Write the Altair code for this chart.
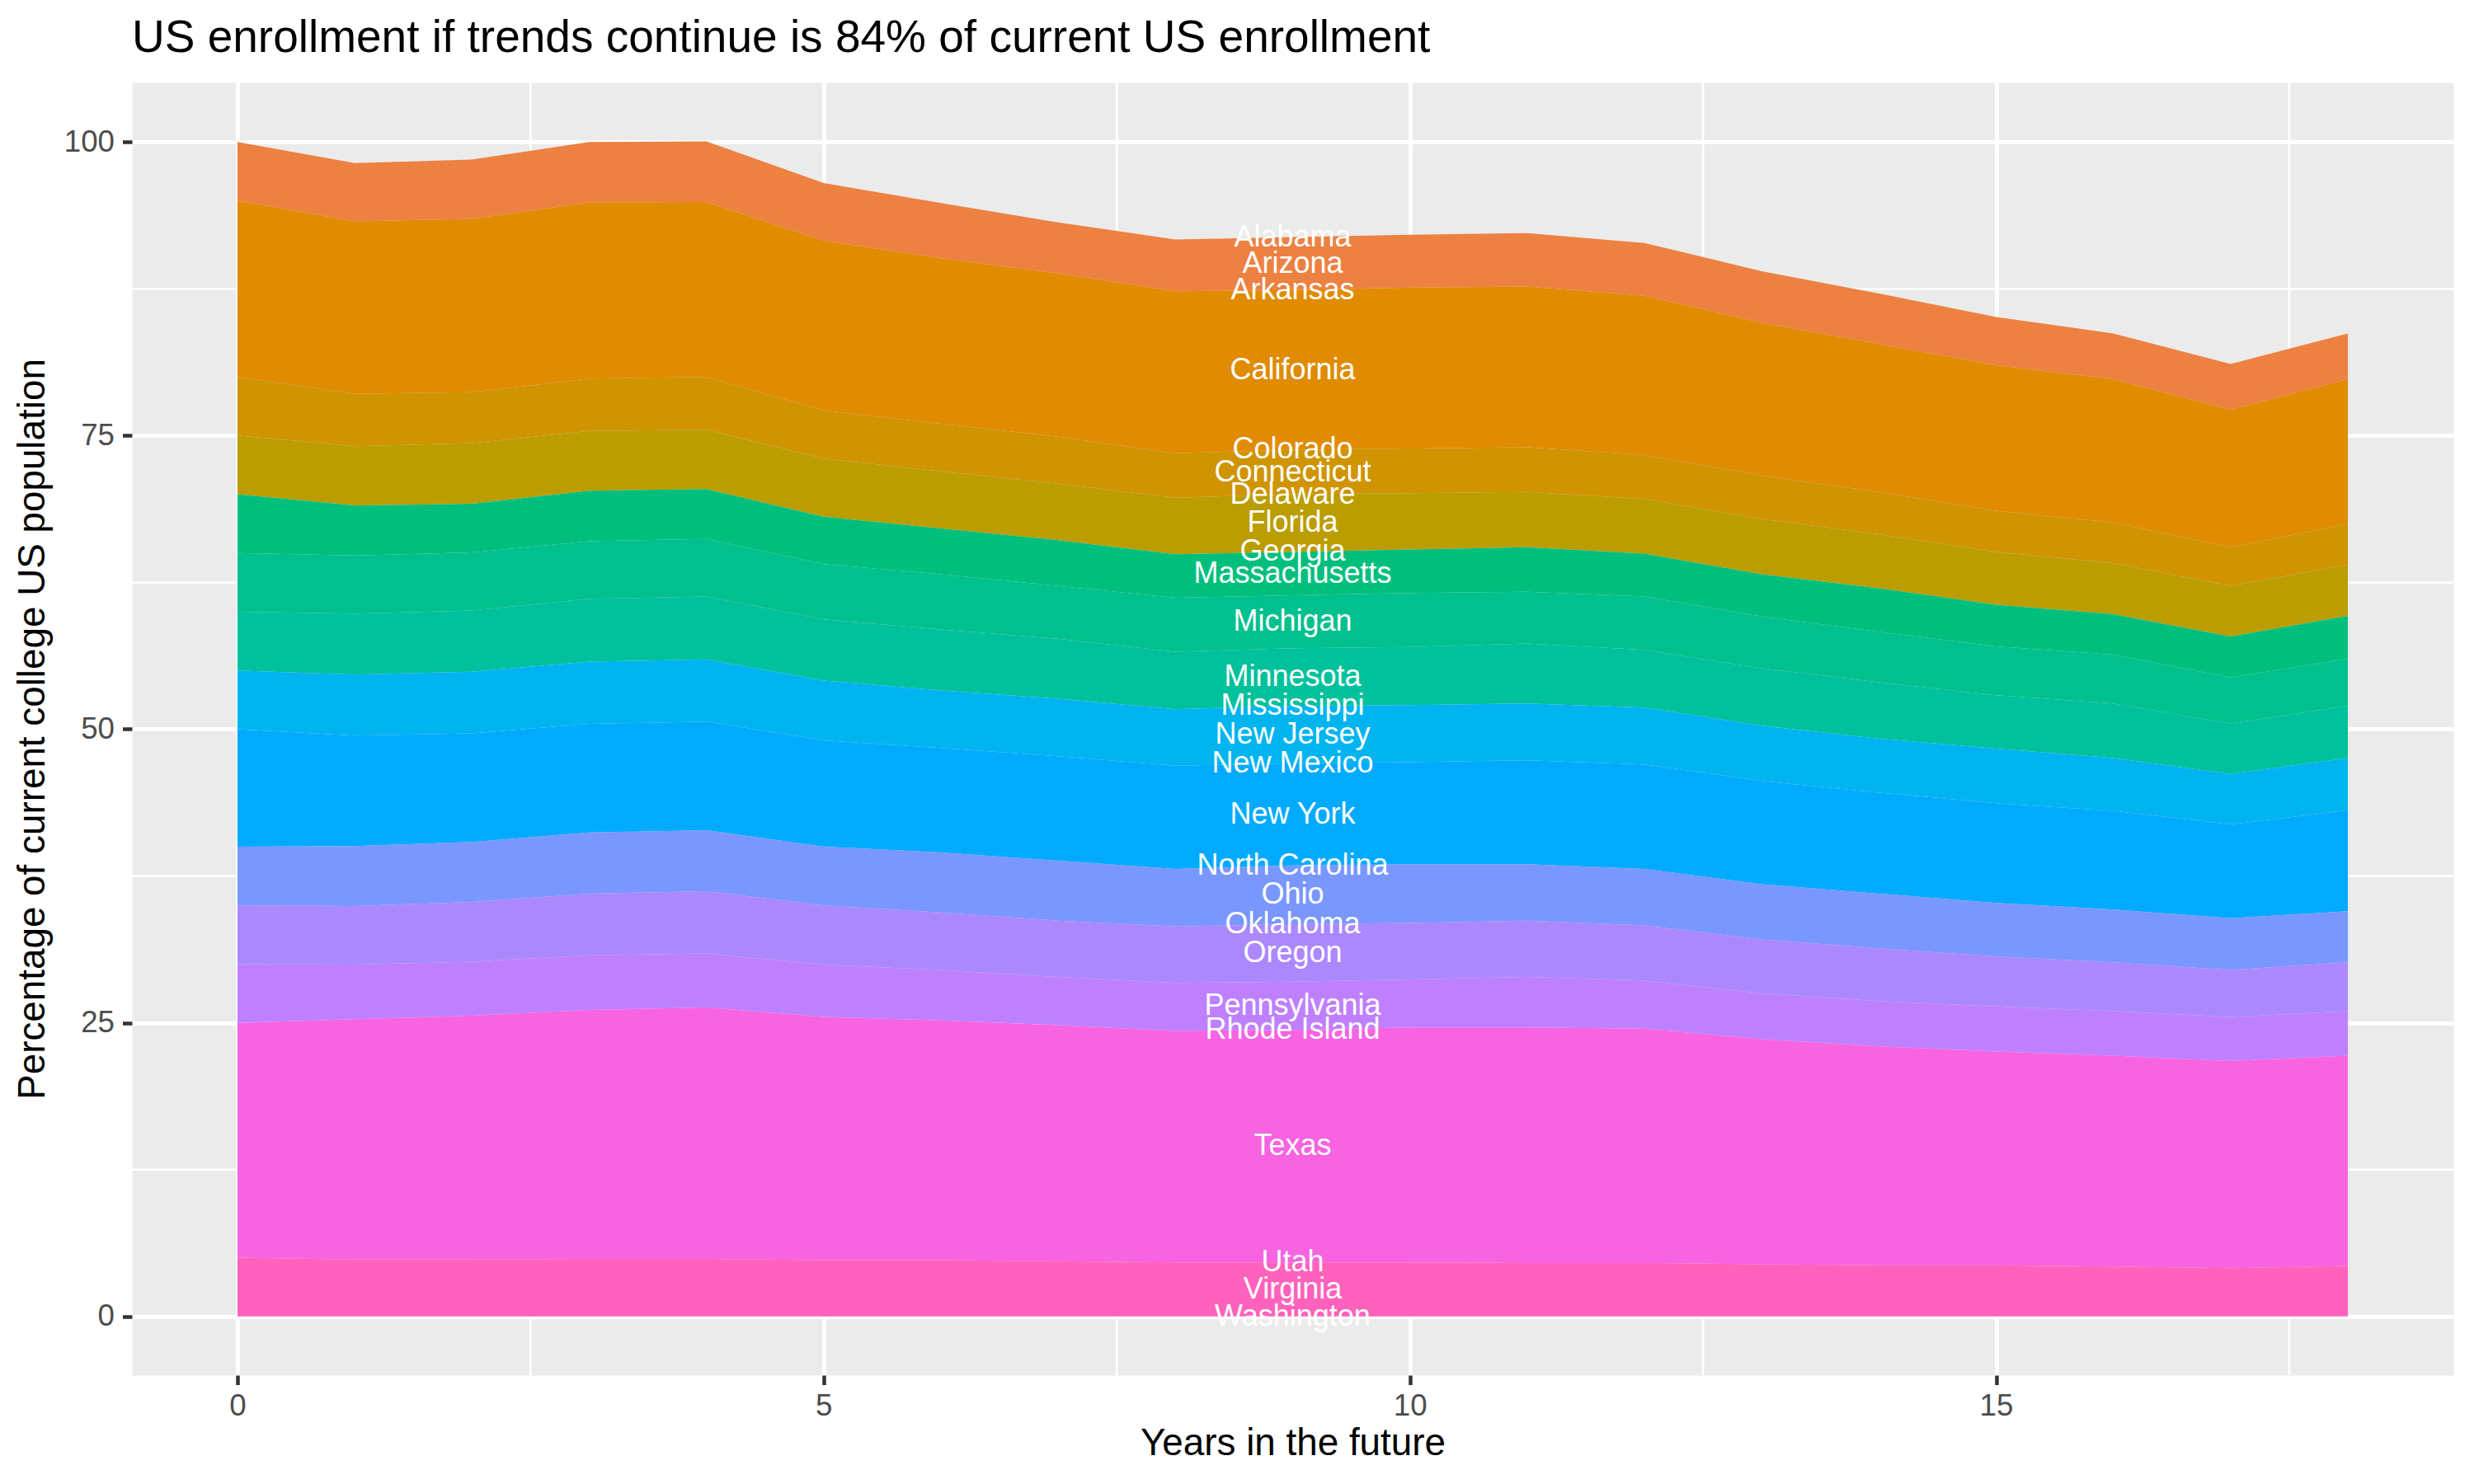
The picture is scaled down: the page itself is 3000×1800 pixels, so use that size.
import numpy as np
import pandas as pd
import altair as alt

FONT = "Liberation Sans"

years = list(range(19))
label_year = 9

states = ["Alabama", "Arizona", "Arkansas", "California", "Colorado", "Connecticut",
          "Delaware", "Florida", "Georgia", "Massachusetts", "Michigan", "Minnesota",
          "Mississippi", "New Jersey", "New Mexico", "New York", "North Carolina", "Ohio",
          "Oklahoma", "Oregon", "Pennsylvania", "Rhode Island", "Texas", "Utah",
          "Virginia", "Washington"]

# slot of each state in the alphabetical 50-state list the fill palette was built on
palette_slot = [0, 2, 3, 4, 5, 6, 7, 8, 9, 20, 21, 22, 23, 29, 30, 31, 32,
                34, 35, 36, 37, 38, 42, 43, 45, 46]

# percentage of current college US population, per year in the future
arizona = [5.0, 4.95, 5.05, 5.15, 5.15, 4.9, 4.7, 4.35, 4.4, 4.5, 4.5, 4.55, 4.5, 4.4, 4.3, 4.1, 3.9, 3.9, 3.9]
california = [15.0, 14.7, 14.75, 15.0, 14.9, 14.45, 14.1, 13.9, 13.8, 13.6, 13.7, 13.7, 13.55, 13.0, 12.6, 12.4, 12.2, 11.7, 12.3]
connecticut = [5.0, 4.45, 4.35, 4.45, 4.5, 4.1, 4.05, 4.0, 3.8, 3.8, 3.8, 3.8, 3.75, 3.7, 3.6, 3.5, 3.45, 3.3, 3.5]
florida = [5.0, 5.05, 5.15, 5.1, 5.05, 4.95, 4.85, 4.8, 4.8, 4.9, 4.8, 4.7, 4.65, 4.7, 4.6, 4.5, 4.35, 4.3, 4.35]
massachusetts = [5.0, 4.25, 4.15, 4.3, 4.25, 4.05, 3.9, 3.9, 3.7, 3.7, 3.7, 3.8, 3.65, 3.6, 3.7, 3.55, 3.45, 3.5, 3.65]
michigan = [5.0, 4.95, 4.95, 4.9, 4.9, 4.7, 4.7, 4.5, 4.6, 4.5, 4.6, 4.4, 4.55, 4.4, 4.3, 4.15, 4.15, 3.9, 4.0]
minnesota = [5.0, 5.2, 5.2, 5.35, 5.35, 5.2, 5.2, 5.1, 4.9, 4.9, 4.95, 5.1, 4.9, 4.9, 4.8, 4.55, 4.65, 4.3, 4.45]
new_jersey = [5.0, 5.2, 5.25, 5.3, 5.3, 5.1, 4.9, 4.9, 4.8, 4.9, 4.85, 4.85, 4.85, 4.7, 4.6, 4.65, 4.5, 4.3, 4.45]
new_york = [10.0, 9.4, 9.25, 9.25, 9.25, 9.05, 8.9, 8.9, 8.8, 8.7, 8.7, 8.85, 8.9, 8.8, 8.6, 8.5, 8.4, 8.0, 8.6]
ohio = [5.0, 5.1, 5.1, 5.2, 5.2, 5.0, 5.1, 5.1, 4.9, 5.0, 5.0, 4.8, 4.8, 4.7, 4.65, 4.55, 4.5, 4.4, 4.35]
oregon = [5.0, 5.0, 5.1, 5.25, 5.3, 5.05, 4.9, 4.8, 4.8, 4.9, 4.8, 4.8, 4.7, 4.6, 4.5, 4.25, 4.15, 4.0, 4.15]
pennsylvania = [5.0, 4.65, 4.6, 4.65, 4.6, 4.45, 4.3, 4.1, 4.1, 4.1, 4.1, 4.3, 4.1, 3.9, 3.85, 3.85, 3.8, 3.75, 3.8]
texas = [20.0, 20.45, 20.75, 21.2, 21.4, 20.7, 20.4, 20.1, 19.7, 19.8, 20.0, 20.05, 19.95, 19.15, 18.65, 18.2, 17.95, 17.65, 17.9]
virginia = [5.0, 4.85, 4.85, 4.9, 4.9, 4.8, 4.8, 4.7, 4.6, 4.6, 4.6, 4.55, 4.55, 4.45, 4.35, 4.35, 4.25, 4.1, 4.3]

enrollment = {
    "Arizona": arizona, "California": california, "Connecticut": connecticut,
    "Florida": florida, "Massachusetts": massachusetts, "Michigan": michigan,
    "Minnesota": minnesota, "New Jersey": new_jersey, "New York": new_york,
    "Ohio": ohio, "Oregon": oregon, "Pennsylvania": pennsylvania,
    "Texas": texas, "Virginia": virginia,
}

x_ticks = [0, 5, 10, 15]
y_ticks = [0, 25, 50, 75, 100]
x_minor = [2.5, 7.5, 12.5, 17.5]
y_minor = [12.5, 37.5, 62.5, 87.5]


def hue_colour(slot, n=50):
    # ggplot's default hue palette: hcl(h, c = 100, l = 65)
    h = np.deg2rad(15 + 360 * slot / n)
    L, C = 65.0, 100.0
    U, V = C * np.cos(h), C * np.sin(h)
    Xn, Yn, Zn = 95.047, 100.0, 108.883
    den = Xn + 15 * Yn + 3 * Zn
    un, vn = 4 * Xn / den, 9 * Yn / den
    Y = Yn * ((L + 16) / 116) ** 3
    u = U / (13 * L) + un
    v = V / (13 * L) + vn
    X = Y * 9 * u / (4 * v)
    Z = Y * (12 - 3 * u - 20 * v) / (4 * v)
    m = np.array([[3.240479, -1.537150, -0.498535],
                  [-0.969256, 1.875992, 0.041556],
                  [0.055648, -0.204043, 1.057311]])
    rgb = m @ np.array([X, Y, Z]) / 100
    rgb = np.clip(rgb, 0, 1)
    rgb = np.where(rgb <= 0.0031308, 12.92 * rgb, 1.055 * rgb ** (1 / 2.4) - 0.055)
    return "#" + "".join(f"{int(round(c * 255)):02X}" for c in np.clip(rgb, 0, 1))


colours = [hue_colour(s) for s in palette_slot]

rows = []
for rank, state in enumerate(states):
    vals = enrollment.get(state, [0.0] * len(years))
    for yr, val in zip(years, vals):
        rows.append({"state": state, "year": yr, "pct": val, "rank": rank})
df = pd.DataFrame(rows)

x_scale = alt.Scale(domain=[-0.9, 18.9], nice=False, zero=False)
y_scale = alt.Scale(domain=[-5.0, 105.07], nice=False, zero=False)

# every layer carries the same axis, otherwise the first layer's choice wins
x_axis = alt.Axis(values=x_ticks, format="d", title="Years in the future")
y_axis = alt.Axis(values=y_ticks, format="d",
                  title="Percentage of current college US population")

vgrid = alt.Chart(pd.DataFrame({"v": x_minor})).mark_rule(
    color="white", strokeWidth=2.6
).encode(x=alt.X("v:Q", scale=x_scale, axis=x_axis))

hgrid = alt.Chart(pd.DataFrame({"v": y_minor})).mark_rule(
    color="white", strokeWidth=2.6
).encode(y=alt.Y("v:Q", scale=y_scale, axis=y_axis))

areas = alt.Chart(df[df["state"].isin(list(enrollment))]).mark_area(
    interpolate="linear", opacity=1
).encode(
    x=alt.X("year:Q", scale=x_scale, axis=x_axis),
    y=alt.Y("pct:Q", stack="zero", scale=y_scale, axis=y_axis),
    color=alt.Color("state:N", scale=alt.Scale(domain=states, range=colours), legend=None),
    order=alt.Order("rank:Q", sort="descending"),
)

# state names sit in the middle of each state's slice at year 9
labels = alt.Chart(df).transform_filter(
    f"datum.year == {label_year}"
).transform_stack(
    stack="pct", groupby=["year"], as_=["lo", "hi"],
    sort=[alt.SortField("rank", order="descending")]
).transform_calculate(
    mid="(datum.lo + datum.hi) / 2"
).mark_text(
    color="white", font=FONT, fontSize=36, align="center", baseline="middle"
).encode(
    x=alt.X("year:Q", scale=x_scale, axis=x_axis),
    y=alt.Y("mid:Q", scale=y_scale, axis=y_axis),
    text="state:N",
)

chart = alt.layer(vgrid, hgrid, areas, labels).properties(
    width=2815,
    height=1568,
    padding={"left": 8, "top": 10, "right": 5, "bottom": 5},
    title=alt.TitleParams(
        "US enrollment if trends continue is 84% of current US enrollment",
        anchor="start", frame="group", font=FONT, fontSize=55, fontWeight="normal",
        color="black", offset=24,
    ),
).configure_view(
    fill="#EBEBEB", stroke="transparent"
).configure_axis(
    domain=False, grid=True, gridColor="white", gridWidth=5,
    tickColor="#333333", tickSize=11.5, tickWidth=4.5,
    labelFont=FONT, labelFontSize=36.7, labelColor="#4D4D4D", labelPadding=8,
    titleFont=FONT, titleFontSize=45.8, titleColor="black", titleFontWeight="normal",
).configure_axisX(
    titlePadding=4
).configure_axisY(
    titlePadding=14, labelPadding=10
)

chart.save("out.html", embed_options={"renderer": "svg", "actions": False})
